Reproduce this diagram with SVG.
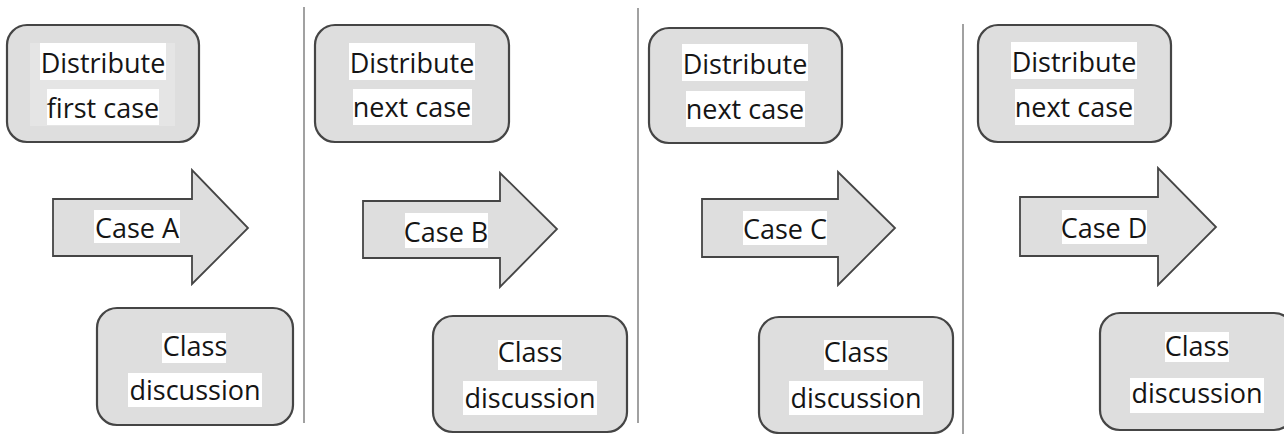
<svg xmlns="http://www.w3.org/2000/svg" width="1284" height="434" viewBox="0 0 1284 434">
  <style>
    .box { fill: #dedede; stroke: #454545; stroke-width: 2.2; }
    .arrow { fill: #dedede; stroke: #454545; stroke-width: 1.8; stroke-linejoin: miter; }
    .bg { fill: #ffffff; }
    .inner { fill: #e5e5e5; }
    .lbl { font-family: "Open Sans", "Liberation Sans", sans-serif; font-size: 27px; fill: #151515; text-anchor: middle; }
    .sep { stroke: #8a8a8a; stroke-width: 1.6; }
  </style>
  <rect width="1284" height="434" fill="#ffffff"/>

  <!-- vertical dividers between the four rounds -->
  <g id="dividers">
    <line class="sep" x1="304" y1="7" x2="304" y2="423"/>
    <line class="sep" x1="638" y1="8" x2="638" y2="423"/>
    <line class="sep" x1="963" y1="24" x2="963" y2="434"/>
  </g>

  <!-- round 1 -->
  <g id="distribute-1">
    <rect class="box" x="7" y="25" width="192" height="117" rx="20"/>
    <rect class="inner" x="30" y="43" width="145" height="83"/>
    <rect class="bg" x="40" y="43" width="126" height="37"/>
    <rect class="bg" x="47" y="89" width="112" height="36"/>
    <text class="lbl" x="103" y="73">Distribute</text>
    <text class="lbl" x="103" y="118">first case</text>
  </g>
  <g id="case-a">
    <polygon class="arrow" points="53,199 192,199 192,170 248,228 192,284 192,256 53,256"/>
    <rect class="bg" x="94" y="210" width="86" height="33"/>
    <text class="lbl" x="137" y="238">Case A</text>
  </g>
  <g id="discussion-1">
    <rect class="box" x="97" y="308" width="196" height="117" rx="20"/>
    <rect class="bg" x="162" y="333" width="64" height="30"/>
    <rect class="bg" x="128" y="373" width="134" height="34"/>
    <text class="lbl" x="195" y="356">Class</text>
    <text class="lbl" x="195" y="400">discussion</text>
  </g>

  <!-- round 2 -->
  <g id="distribute-2">
    <rect class="box" x="315" y="25" width="194" height="117" rx="20"/>
    <rect class="bg" x="349" y="43" width="126" height="37"/>
    <rect class="bg" x="353" y="89" width="119" height="36"/>
    <text class="lbl" x="412" y="73">Distribute</text>
    <text class="lbl" x="412" y="117">next case</text>
  </g>
  <g id="case-b">
    <polygon class="arrow" points="363,201 500,201 500,173 557,229 500,287 500,258 363,258"/>
    <rect class="bg" x="405" y="213" width="83" height="35"/>
    <text class="lbl" x="446" y="242">Case B</text>
  </g>
  <g id="discussion-2">
    <rect class="box" x="433" y="316" width="194" height="116" rx="20"/>
    <rect class="bg" x="498" y="340" width="64" height="30"/>
    <rect class="bg" x="463" y="381" width="134" height="34"/>
    <text class="lbl" x="530" y="362">Class</text>
    <text class="lbl" x="530" y="408">discussion</text>
  </g>

  <!-- round 3 -->
  <g id="distribute-3">
    <rect class="box" x="649" y="28" width="193" height="115" rx="20"/>
    <rect class="bg" x="682" y="44" width="126" height="37"/>
    <rect class="bg" x="686" y="91" width="119" height="36"/>
    <text class="lbl" x="745" y="74">Distribute</text>
    <text class="lbl" x="745" y="119">next case</text>
  </g>
  <g id="case-c">
    <polygon class="arrow" points="702,199 838,199 838,172 895,228 838,285 838,257 702,257"/>
    <rect class="bg" x="743" y="211" width="84" height="34"/>
    <text class="lbl" x="785" y="239">Case C</text>
  </g>
  <g id="discussion-3">
    <rect class="box" x="759" y="317" width="194" height="116" rx="20"/>
    <rect class="bg" x="824" y="340" width="64" height="30"/>
    <rect class="bg" x="789" y="381" width="134" height="34"/>
    <text class="lbl" x="856" y="362">Class</text>
    <text class="lbl" x="856" y="408">discussion</text>
  </g>

  <!-- round 4 -->
  <g id="distribute-4">
    <rect class="box" x="978" y="25" width="193" height="117" rx="20"/>
    <rect class="bg" x="1011" y="42" width="126" height="37"/>
    <rect class="bg" x="1015" y="89" width="119" height="36"/>
    <text class="lbl" x="1074" y="72">Distribute</text>
    <text class="lbl" x="1074" y="117">next case</text>
  </g>
  <g id="case-d">
    <polygon class="arrow" points="1020,197 1158,197 1158,168 1216,227 1158,285 1158,256 1020,256"/>
    <rect class="bg" x="1062" y="210" width="85" height="34"/>
    <text class="lbl" x="1104" y="238">Case D</text>
  </g>
  <g id="discussion-4">
    <rect class="box" x="1100" y="313" width="194" height="117" rx="20"/>
    <rect class="bg" x="1165" y="332" width="64" height="30"/>
    <rect class="bg" x="1130" y="378" width="134" height="35"/>
    <text class="lbl" x="1197" y="356">Class</text>
    <text class="lbl" x="1197" y="403">discussion</text>
  </g>
</svg>
